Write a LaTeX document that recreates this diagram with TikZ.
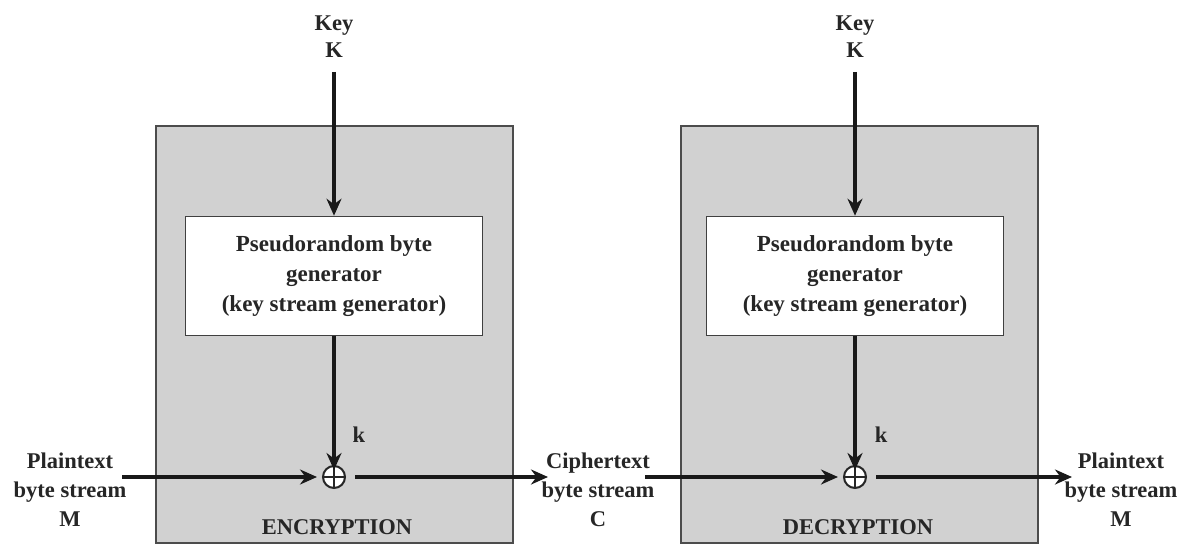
\documentclass[tikz,border=0pt]{standalone}
\usepackage{fontspec}
\setmainfont{Liberation Serif}
\usetikzlibrary{arrows.meta}
\begin{document}
\begin{tikzpicture}[x=1pt,y=-1pt,
  lbl/.style={font=\bfseries\fontsize{22.5}{29}\selectfont, align=center, inner sep=0pt, text=black!85},
  panel/.style={draw=black!70, line width=1.6pt, fill=black!18},
  genbox/.style={draw=black!75, line width=1.6pt, fill=white, minimum width=297pt, minimum height=119pt, inner sep=0pt,
    font=\bfseries\fontsize{23}{30}\selectfont, align=center, text=black!85},
  xorop/.style={circle, draw=black!85, line width=2pt, fill=white, minimum size=22pt, inner sep=0pt,
    path picture={\draw[black!85, line width=2pt]
      (path picture bounding box.north) -- (path picture bounding box.south)
      (path picture bounding box.west) -- (path picture bounding box.east);}},
  flow/.style={line width=3.2pt, black!90, -{Stealth[length=17pt,width=15pt]}}]
\useasboundingbox (0,0) rectangle (1188,545);

% enclosing panels
\draw[panel] (156,126) rectangle (513,543);
\draw[panel] (681,126) rectangle (1038,543);

% key stream generators
\node[genbox] (genE) at (334,276) {Pseudorandom byte\\generator\\(key stream generator)};
\node[genbox] (genD) at (855,276) {Pseudorandom byte\\generator\\(key stream generator)};

% keys
\node[lbl, font=\bfseries\fontsize{22.5}{27}\selectfont] (keyE) at (334,37) {Key\\K};
\node[lbl, font=\bfseries\fontsize{22.5}{27}\selectfont] (keyD) at (855,37) {Key\\K};
\coordinate (kE) at (334,72);
\coordinate (kD) at (855,72);

% XOR combiners
\node[xorop] (xE) at (334,477) {};
\node[xorop] (xD) at (855,477) {};
\node[lbl] (kLE) at (359,435) {k};
\node[lbl] (kLD) at (881,435) {k};

% streams
\node[lbl] (ptIn) at (70,490) {Plaintext\\byte stream\\M};
\node[lbl] (ct) at (598,490) {Ciphertext\\byte stream\\C};
\node[lbl] (ptOut) at (1121,490) {Plaintext\\byte stream\\M};

% panel labels
\node[lbl] (encL) at (337,527) {ENCRYPTION};
\node[lbl] (decL) at (858,527) {DECRYPTION};

% connectors
\draw[flow] (kE) -- (genE.north);
\draw[flow] (kD) -- (genD.north);
\draw[flow] (genE.south) -- ([yshift=-5pt]xE.north);
\draw[flow] (genD.south) -- ([yshift=-5pt]xD.north);
\coordinate (inS) at (122,477);
\draw[flow] (inS) -- ([xshift=-5pt]xE.west);
\coordinate (ctIn) at (548,477);
\draw[flow] ([xshift=9pt]xE.east) -- (ctIn);
\coordinate (ctOut) at (645,477);
\draw[flow] (ctOut) -- ([xshift=-5pt]xD.west);
\coordinate (outE) at (1072,477);
\draw[flow] ([xshift=9pt]xD.east) -- (outE);
\end{tikzpicture}
\end{document}
